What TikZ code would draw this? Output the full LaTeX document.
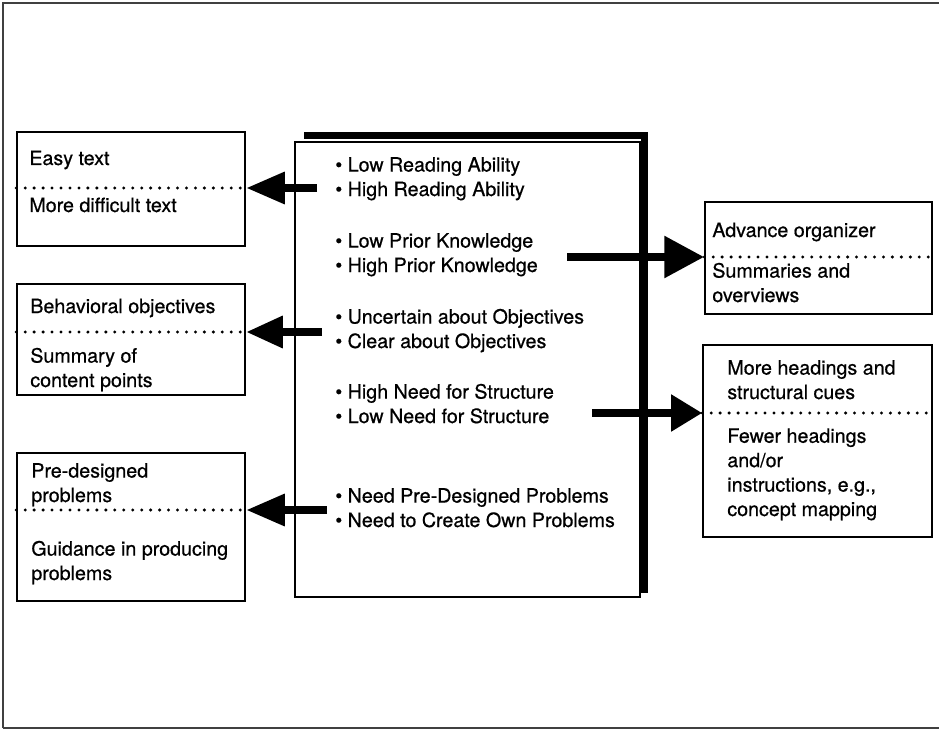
\documentclass[tikz,border=0pt]{standalone}
\usepackage{fontspec}
\setmainfont{TeX Gyre Heros}
\newfontfamily\heros{TeX Gyre Heros}[FakeBold=0.6]
\usetikzlibrary{arrows.meta,calc,positioning}

\tikzset{
  card/.style={draw, line width=0.9pt, inner sep=0pt},
  txt/.style={anchor=base west, align=left, inner sep=0pt, font=\heros\fontsize{11.2}{13.9}\selectfont},
  dotline/.style={line width=1.9pt, line cap=round, dash pattern=on 0pt off 5.1pt},
  fatarrow/.style={line width=5.1pt},
}

\begin{document}
\begin{tikzpicture}[x=0.02cm,y=-0.02cm]
  \useasboundingbox (0,0) rectangle (939,733);
  \draw[line width=0.6pt,black!75] (3,728) -- (3,3) -- (939,3);
  \draw[line width=0.6pt,black!75] (3,728) -- (939,728);

  % central box with heavy shadow on top and right
  \node[card, minimum width=6.9cm, minimum height=9.1cm] (traits) at (467.5,369.5) {};
  \draw[line width=0.14cm] ($(traits.north west)+(10,-5.5)$) -- ($(traits.north east)+(3.5,-5.5)$) -- ($(traits.south east)+(3.5,-5)$);

  % base = baseline of the last line
  \node[txt] (reading) at (335,196) {• Low Reading Ability\\• High Reading Ability};
  \node[txt] (prior) at (335,272) {• Low Prior Knowledge\\• High Prior Knowledge};
  \node[txt] (goals) at (335,348) {• Uncertain about Objectives\\• Clear about Objectives};
  \node[txt] (structure) at (335,423) {• High Need for Structure\\• Low Need for Structure};
  \node[txt] (probs) at (335,527) {• Need Pre-Designed Problems\\• Need to Create Own Problems};

  % left boxes
  \node[card, minimum width=4.56cm, minimum height=2.28cm] (easy) at (131,189) {};
  \node[txt] (easyA) at (29,165) {Easy text};
  \node[txt] (easyB) at (29,212) {More difficult text};
  \coordinate (s1) at (317,188);
  \draw[dotline] (s1 -| easy.west) -- (s1 -| easy.east);
  \draw[fatarrow,-{Triangle[length=0.78cm,width=0.6cm]}] (s1) -- (s1 -| easy.east);

  \node[card, minimum width=4.56cm, minimum height=2.22cm] (behave) at (131,339.5) {};
  \node[txt] (behaveA) at (30,313) {Behavioral objectives};
  \node[txt] (behaveB) at (30,387) {Summary of\\content points};
  \coordinate (s2) at (322,332);
  \draw[dotline] (s2 -| behave.west) -- (s2 -| behave.east);
  \draw[fatarrow,-{Triangle[length=0.74cm,width=0.6cm]}] (s2) -- (s2 -| behave.east);

  \node[card, minimum width=4.56cm, minimum height=2.96cm] (predesign) at (131,527) {};
  \node[txt] (predesignA) at (31,502) {Pre-designed\\problems};
  \node[txt] (predesignB) at (31,580) {Guidance in producing\\problems};
  \coordinate (s3) at (327,510);
  \draw[dotline] (s3 -| predesign.west) -- (s3 -| predesign.east);
  \draw[fatarrow,-{Triangle[length=0.78cm,width=0.6cm]}] (s3) -- (s3 -| predesign.east);

  % right boxes
  \node[card, minimum width=4.54cm, minimum height=2.24cm] (advance) at (818.5,258) {};
  \node[txt] (advanceA) at (712,237) {Advance organizer};
  \node[txt] (advanceB) at (712,302) {Summaries and\\overviews};
  \coordinate (s4) at (567,257);
  \draw[dotline] (s4 -| advance.west) -- (s4 -| advance.east);
  \draw[fatarrow,-{Triangle[length=0.8cm,width=0.8cm]}] (s4) -- (s4 -| advance.west);

  \node[card, minimum width=4.58cm, minimum height=3.84cm] (heading) at (817.5,441) {};
  \node[txt] (headingA) at (727,399) {More headings and\\structural cues};
  \node[txt] (headingB) at (727,516) {Fewer headings\\and/or\\instructions, e.g.,\\concept mapping};
  \coordinate (s5) at (592,413);
  \draw[dotline] (s5 -| heading.west) -- (s5 -| heading.east);
  \draw[fatarrow,-{Triangle[length=0.62cm,width=0.7cm]}] (s5) -- (s5 -| heading.west);
\end{tikzpicture}
\end{document}
